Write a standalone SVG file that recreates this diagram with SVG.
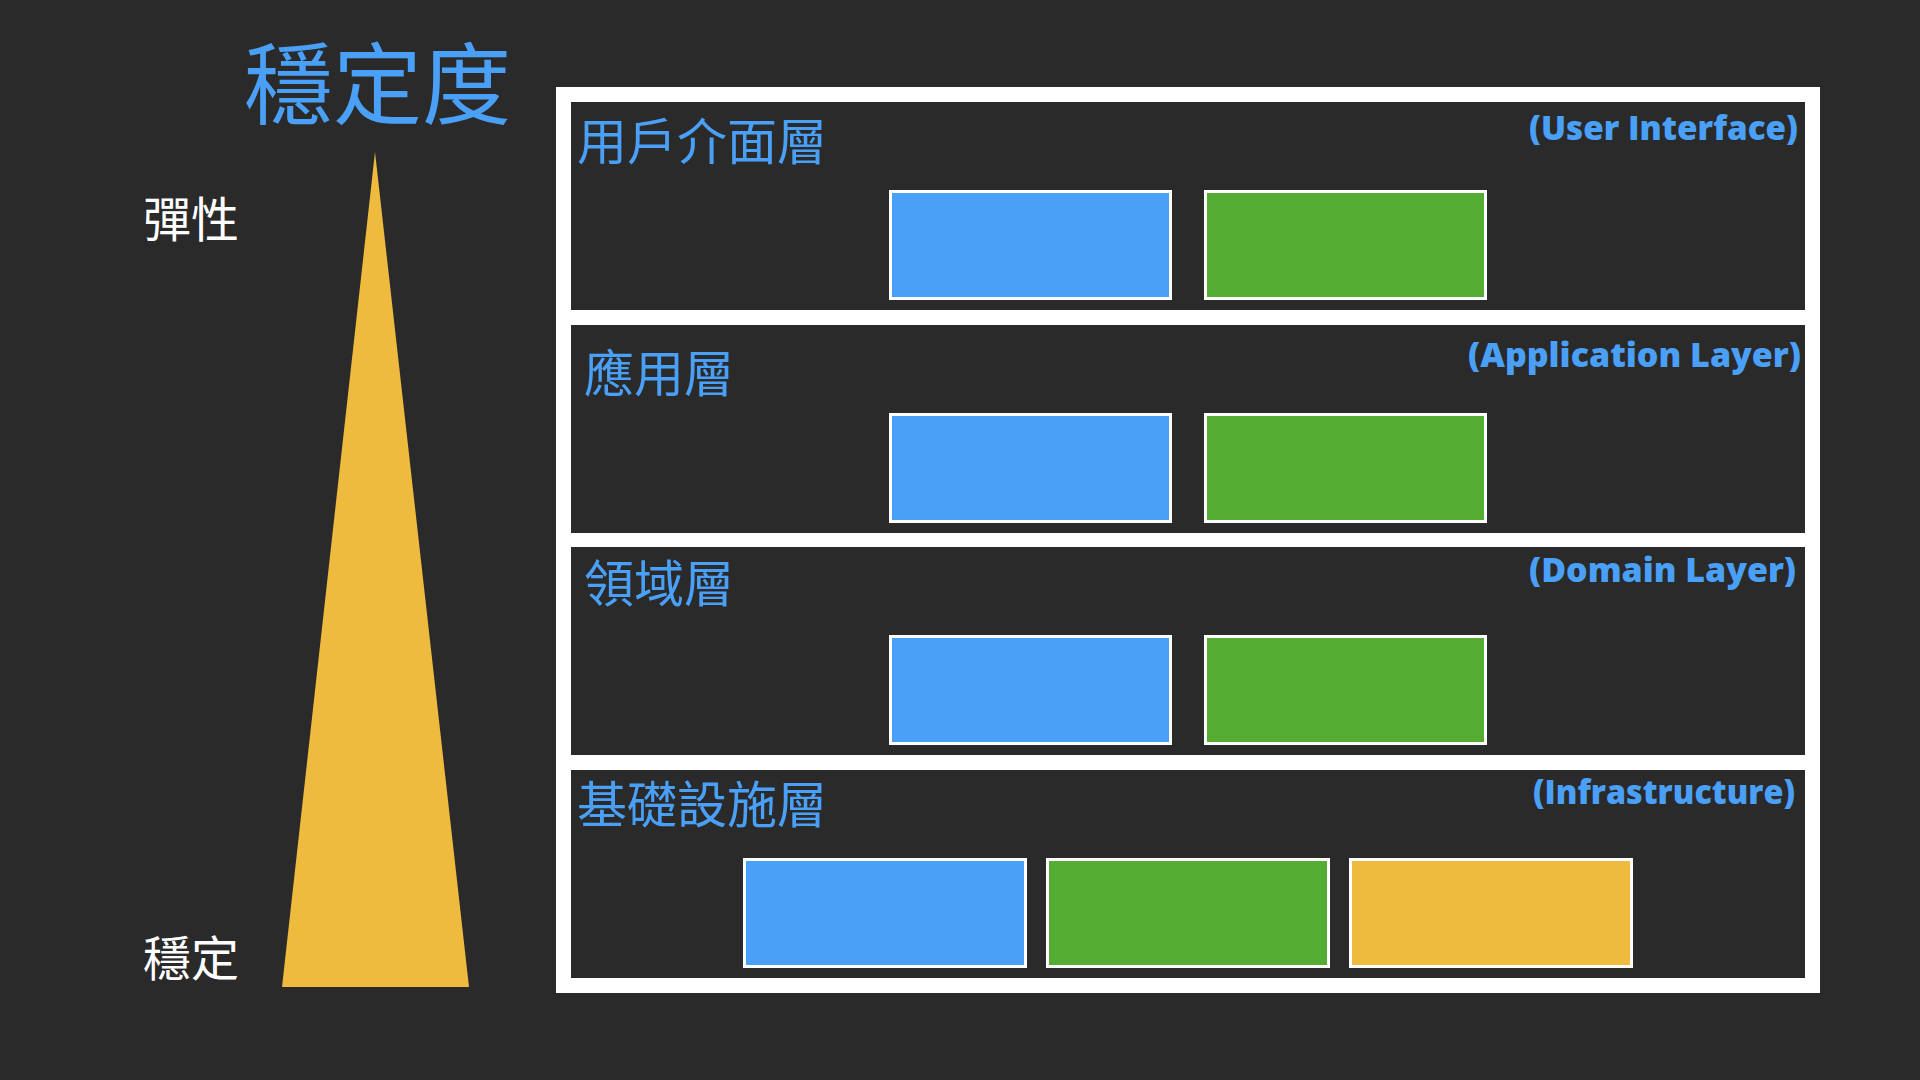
<svg xmlns="http://www.w3.org/2000/svg" width="1920" height="1080" viewBox="0 0 1920 1080">
<style>
.cjk{font-family:"Noto Sans CJK TC","Noto Sans CJK SC",sans-serif;}
.lbl{fill:#4aa0f7;font-size:50px;}
.en{font-family:"Open Sans","Liberation Sans",sans-serif;font-weight:800;font-size:34px;fill:#4aa0f7;}
.panel{fill:#2a2a2a;}
.box{stroke:#ffffff;stroke-width:3;}
.blue{fill:#4aa0f7;}
.green{fill:#54ad32;}
.yellow{fill:#eebb3f;}
</style>
<rect x="0" y="0" width="1920" height="1080" fill="#2a2a2a"/>
<g id="title">
<text class="cjk" x="244" y="117" font-size="89" fill="#4aa0f7">穩定度</text>
</g>
<g id="scale">
<polygon points="375,152 469,987 282,987" fill="#eebb3f"/>
<text class="cjk" x="143" y="237" font-size="48" fill="#ffffff">彈性</text>
<text class="cjk" x="143" y="976" font-size="48" fill="#ffffff">穩定</text>
</g>
<g id="frame">
<rect x="556" y="87" width="1264" height="906" fill="#ffffff"/>
</g>
<g id="layer-ui">
<rect class="panel" x="571" y="102" width="1234" height="208"/>
<text class="cjk lbl" x="577" y="160">用戶介面層</text>
<text class="en" x="1529" y="140" textLength="269" lengthAdjust="spacingAndGlyphs">(User Interface)</text>
<rect class="box blue" x="890.5" y="191.5" width="280" height="107"/>
<rect class="box green" x="1205.5" y="191.5" width="280" height="107"/>
</g>
<g id="layer-app">
<rect class="panel" x="571" y="325" width="1234" height="208"/>
<text class="cjk lbl" x="584" y="392">應用層</text>
<text class="en" x="1468" y="367" textLength="333" lengthAdjust="spacingAndGlyphs">(Application Layer)</text>
<rect class="box blue" x="890.5" y="414.5" width="280" height="107"/>
<rect class="box green" x="1205.5" y="414.5" width="280" height="107"/>
</g>
<g id="layer-domain">
<rect class="panel" x="571" y="547" width="1234" height="208"/>
<text class="cjk lbl" x="584" y="602">領域層</text>
<text class="en" x="1529" y="582" textLength="267" lengthAdjust="spacingAndGlyphs">(Domain Layer)</text>
<rect class="box blue" x="890.5" y="636.5" width="280" height="107"/>
<rect class="box green" x="1205.5" y="636.5" width="280" height="107"/>
</g>
<g id="layer-infra">
<rect class="panel" x="571" y="770" width="1234" height="208"/>
<text class="cjk lbl" x="577" y="823">基礎設施層</text>
<text class="en" x="1533" y="804" textLength="262" lengthAdjust="spacingAndGlyphs">(Infrastructure)</text>
<rect class="box blue" x="744.5" y="859.5" width="281" height="107"/>
<rect class="box green" x="1047.5" y="859.5" width="281" height="107"/>
<rect class="box yellow" x="1350.5" y="859.5" width="281" height="107"/>
</g>
<g id="connectors"/>
</svg>
